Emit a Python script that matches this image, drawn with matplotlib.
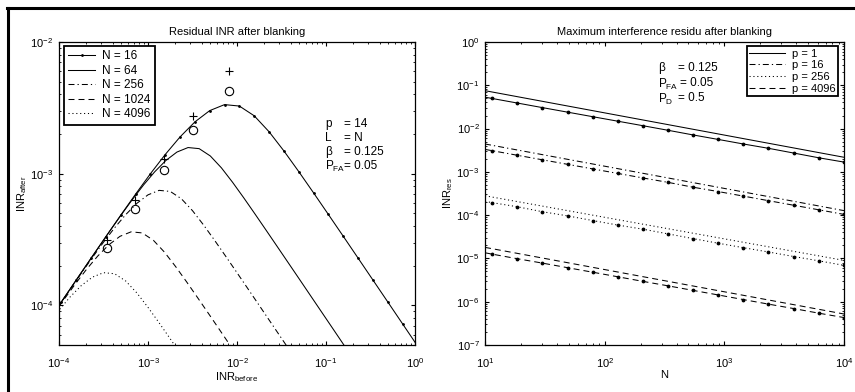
import matplotlib
matplotlib.use('Agg')
import matplotlib.pyplot as plt
from matplotlib.lines import Line2D

plt.rcParams['font.family'] = ['Liberation Sans', 'DejaVu Sans']
plt.rcParams['font.size'] = 8
plt.rcParams['mathtext.default'] = 'regular'
plt.rcParams['lines.scale_dashes'] = False
plt.rcParams['xtick.direction'] = 'in'
plt.rcParams['ytick.direction'] = 'in'
plt.rcParams['xtick.top'] = True
plt.rcParams['ytick.right'] = True
plt.rcParams['xtick.major.size'] = 3
plt.rcParams['ytick.major.size'] = 3
plt.rcParams['xtick.minor.size'] = 1.6
plt.rcParams['ytick.minor.size'] = 1.6
plt.rcParams['xtick.major.pad'] = 8
plt.rcParams['ytick.major.pad'] = 4
plt.rcParams['axes.linewidth'] = 0.9

# ---- left panel: residual INR after blanking ----
inr_before_n16 = [7.244e-5, 1.063e-4, 1.561e-4, 2.291e-4, 3.363e-4, 4.936e-4, 7.244e-4, 1.063e-3,
                  1.561e-3, 2.291e-3, 3.363e-3, 4.936e-3, 7.244e-3, 1.063e-2, 1.561e-2, 2.291e-2,
                  3.363e-2, 4.936e-2, 7.244e-2, 0.1063, 0.1561, 0.2291, 0.3363, 0.4936, 0.7244, 1.063]
inr_after_n16 = [7.236e-5, 1.061e-4, 1.555e-4, 2.276e-4, 3.323e-4, 4.834e-4, 6.984e-4, 9.976e-4,
                 1.398e-3, 1.901e-3, 2.472e-3, 3.012e-3, 3.345e-3, 3.262e-3, 2.751e-3, 2.082e-3,
                 1.489e-3, 1.038e-3, 7.152e-4, 4.901e-4, 3.350e-4, 2.286e-4, 1.559e-4, 1.063e-4,
                 7.242e-5, 4.934e-5]

inr_before_n64 = [8.913e-5, 1.189e-4, 1.585e-4, 2.113e-4, 2.818e-4, 3.758e-4, 5.012e-4, 6.683e-4,
                  8.913e-4, 1.189e-3, 1.585e-3, 2.113e-3, 2.818e-3, 3.758e-3, 5.012e-3, 6.683e-3,
                  8.913e-3, 1.189e-2, 1.585e-2, 2.113e-2, 2.818e-2, 3.758e-2, 5.012e-2, 6.683e-2,
                  8.913e-2, 0.1189, 0.1585, 0.2113]
inr_after_n64 = [8.905e-5, 1.187e-4, 1.580e-4, 2.103e-4, 2.794e-4, 3.701e-4, 4.876e-4, 6.372e-4,
                 8.206e-4, 1.033e-3, 1.258e-3, 1.459e-3, 1.579e-3, 1.549e-3, 1.363e-3, 1.107e-3,
                 8.605e-4, 6.564e-4, 4.964e-4, 3.739e-4, 2.810e-4, 2.110e-4, 1.584e-4, 1.188e-4,
                 8.910e-5, 6.682e-5, 5.011e-5, 3.758e-5]

inr_before_n256 = [7.499e-5, 1.000e-4, 1.334e-4, 1.778e-4, 2.371e-4, 3.162e-4, 4.217e-4, 5.623e-4,
                   7.499e-4, 1.000e-3, 1.334e-3, 1.778e-3, 2.371e-3, 3.162e-3, 4.217e-3, 5.623e-3,
                   7.499e-3, 1.000e-2, 1.334e-2, 1.778e-2, 2.371e-2, 3.162e-2, 4.217e-2]
inr_after_n256 = [7.478e-5, 9.950e-5, 1.322e-4, 1.751e-4, 2.307e-4, 3.014e-4, 3.882e-4, 4.889e-4,
                  5.952e-4, 6.906e-4, 7.469e-4, 7.330e-4, 6.451e-4, 5.236e-4, 4.071e-4, 3.106e-4,
                  2.349e-4, 1.769e-4, 1.329e-4, 9.984e-5, 7.492e-5, 5.621e-5, 4.216e-5]

inr_before_n1024 = [8.610e-5, 1.148e-4, 1.531e-4, 2.042e-4, 2.723e-4, 3.631e-4, 4.842e-4, 6.457e-4,
                    8.610e-4, 1.148e-3, 1.531e-3, 2.042e-3, 2.723e-3, 3.631e-3, 4.842e-3, 6.457e-3,
                    8.610e-3, 1.148e-2]
inr_after_n1024 = [8.478e-5, 1.117e-4, 1.459e-4, 1.880e-4, 2.367e-4, 2.883e-4, 3.343e-4, 3.617e-4,
                   3.549e-4, 3.123e-4, 2.535e-4, 1.971e-4, 1.504e-4, 1.137e-4, 8.566e-5, 6.438e-5,
                   4.834e-5, 3.628e-5]

inr_before_n4096 = [7.499e-5, 1.000e-4, 1.334e-4, 1.778e-4, 2.371e-4, 3.162e-4, 4.217e-4, 5.623e-4,
                    7.499e-4, 1.000e-3, 1.334e-3, 1.778e-3, 2.371e-3, 3.162e-3]
inr_after_n4096 = [7.148e-5, 9.207e-5, 1.159e-4, 1.412e-4, 1.637e-4, 1.771e-4, 1.738e-4, 1.530e-4,
                   1.242e-4, 9.655e-5, 7.365e-5, 5.570e-5, 4.195e-5, 3.153e-5]

# simulated peaks
peak_before = [3.46e-4, 7.15e-4, 1.51e-3, 3.23e-3, 8.13e-3]
peak_plus = [3.12e-4, 6.34e-4, 1.29e-3, 2.72e-3, 6.01e-3]
peak_circle = [2.74e-4, 5.38e-4, 1.07e-3, 2.13e-3, 4.23e-3]

# ---- right panel: maximum interference residu ----
n_ends = [10, 10000]
res_p1 = [7.5e-2, 2.17e-3]
res_p16 = [4.4e-3, 1.27e-4]
res_p256 = [2.8e-4, 9.0e-6]
res_p4096 = [1.8e-5, 5.2e-7]

n_marked = [10, 11.4, 18.4, 30.1, 49.1, 79.4, 128.5, 210, 340, 551, 891, 1442, 2333, 3846, 6223, 10000]
res_p1_marked = [5.3e-2, 4.97e-2, 3.91e-2, 3.05e-2, 2.39e-2, 1.88e-2, 1.48e-2, 1.16e-2,
                 9.1e-3, 7.1e-3, 5.6e-3, 4.4e-3, 3.5e-3, 2.7e-3, 2.1e-3, 1.68e-3]
res_p16_marked = [3.3e-3, 3.09e-3, 2.43e-3, 1.90e-3, 1.49e-3, 1.17e-3, 9.2e-4, 7.2e-4,
                  5.7e-4, 4.4e-4, 3.5e-4, 2.75e-4, 2.16e-4, 1.68e-4, 1.32e-4, 1.04e-4]
res_p256_marked = [2.08e-4, 1.95e-4, 1.57e-4, 1.20e-4, 9.6e-5, 7.5e-5, 5.9e-5, 4.72e-5,
                   3.68e-5, 2.86e-5, 2.24e-5, 1.77e-5, 1.41e-5, 1.10e-5, 8.75e-6, 6.9e-6]
res_p4096_marked = [1.35e-5, 1.26e-5, 9.9e-6, 7.8e-6, 6.1e-6, 4.8e-6, 3.77e-6, 2.94e-6,
                    2.32e-6, 1.82e-6, 1.43e-6, 1.12e-6, 8.8e-7, 6.9e-7, 5.4e-7, 4.3e-7]

solid = '-'
dashed = (0, (4.3, 2.9))
dashdot = (0, (4.3, 2.2, 0.9, 2.2))
dotted = (0, (0.8, 2.0))
lw = 0.75

fig = plt.figure(figsize=(8.55, 3.92), dpi=100)
ax1 = fig.add_axes([0.0690, 0.1199, 0.4164, 0.7730])
ax2 = fig.add_axes([0.5673, 0.1199, 0.4199, 0.7730])

# left
ax1.plot(inr_before_n16, inr_after_n16, color='k', lw=lw, ls=solid, marker='.', ms=2.0, label='N = 16')
ax1.plot(inr_before_n64, inr_after_n64, color='k', lw=lw, ls=solid, label='N = 64')
ax1.plot(inr_before_n256, inr_after_n256, color='k', lw=lw, ls=dashdot, label='N = 256')
ax1.plot(inr_before_n1024, inr_after_n1024, color='k', lw=lw, ls=dashed, label='N = 1024')
ax1.plot(inr_before_n4096, inr_after_n4096, color='k', lw=lw, ls=dotted, label='N = 4096')
ax1.plot(peak_before, peak_plus, ls='none', marker='+', ms=6, mew=0.8, color='k')
ax1.plot(peak_before, peak_circle, ls='none', marker='o', ms=6, mew=0.8, mfc='none', color='k')
ax1.set_xscale('log')
ax1.set_yscale('log')
ax1.set_xlim(1e-4, 1)
ax1.set_ylim(5e-5, 1e-2)
ax1.set_title('Residual INR after blanking', fontsize=8, pad=5)
ax1.set_xlabel(r'INR$_{before}$', labelpad=0)
ax1.set_ylabel(r'INR$_{after}$', labelpad=1)
leg1 = ax1.legend(loc='upper left', bbox_to_anchor=(0.014, 0.987), borderaxespad=0, fontsize=8.5,
                  fancybox=False, edgecolor='k', framealpha=1, handlelength=2.3, handletextpad=0.6,
                  labelspacing=0.22, borderpad=0.35)
leg1.get_frame().set_linewidth(1.3)

t = ax1.transAxes
ax1.text(0.747, 0.729, 'p', transform=t, va='center', fontsize=8.5)
ax1.text(0.800, 0.729, '= 14', transform=t, va='center', fontsize=8.5)
ax1.text(0.747, 0.683, 'L', transform=t, va='center', fontsize=8.5)
ax1.text(0.800, 0.683, '= N', transform=t, va='center', fontsize=8.5)
ax1.text(0.747, 0.637, 'β', transform=t, va='center', fontsize=8.5)
ax1.text(0.800, 0.637, '= 0.125', transform=t, va='center', fontsize=8.5)
ax1.text(0.747, 0.589, r'P$_{FA}$', transform=t, va='center', fontsize=8.5)
ax1.text(0.800, 0.592, '= 0.05', transform=t, va='center', fontsize=8.5)

# right
ax2.plot(n_ends, res_p1, color='k', lw=lw, ls=solid, label='p = 1')
ax2.plot(n_ends, res_p16, color='k', lw=lw, ls=dashdot, label='p = 16')
ax2.plot(n_ends, res_p256, color='k', lw=lw, ls=dotted, label='p = 256')
ax2.plot(n_ends, res_p4096, color='k', lw=lw, ls=dashed, label='p = 4096')
ax2.plot(n_marked, res_p1_marked, color='k', lw=lw, ls=solid, marker='.', ms=3.5, markevery=slice(1, None))
ax2.plot(n_marked, res_p16_marked, color='k', lw=lw, ls=dashdot, marker='.', ms=3.5, markevery=slice(1, None))
ax2.plot(n_marked, res_p256_marked, color='k', lw=lw, ls=dotted, marker='.', ms=3.5, markevery=slice(1, None))
ax2.plot(n_marked, res_p4096_marked, color='k', lw=lw, ls=dashed, marker='.', ms=3.5, markevery=slice(1, None))
ax2.set_xscale('log')
ax2.set_yscale('log')
ax2.set_xlim(10, 1e4)
ax2.set_ylim(1e-7, 1)
ax2.set_title('Maximum interference residu after blanking', fontsize=8, pad=5)
ax2.set_xlabel('N', labelpad=0)
ax2.set_ylabel(r'INR$_{res}$', labelpad=1)
leg2 = ax2.legend(loc='upper right', bbox_to_anchor=(0.983, 0.987), borderaxespad=0, fontsize=8,
                  fancybox=False, edgecolor='k', framealpha=1, handlelength=3.2, handletextpad=0.6,
                  labelspacing=0.15, borderpad=0.25)
leg2.get_frame().set_linewidth(1.3)

t = ax2.transAxes
ax2.text(0.482, 0.914, 'β', transform=t, va='center', fontsize=8.5)
ax2.text(0.538, 0.914, '= 0.125', transform=t, va='center', fontsize=8.5)
ax2.text(0.482, 0.860, r'P$_{FA}$', transform=t, va='center', fontsize=8.5)
ax2.text(0.543, 0.863, '= 0.05', transform=t, va='center', fontsize=8.5)
ax2.text(0.482, 0.812, r'P$_{D}$', transform=t, va='center', fontsize=8.5)
ax2.text(0.538, 0.815, '= 0.5', transform=t, va='center', fontsize=8.5)

for ax in (ax1, ax2):
    ax.tick_params(which='both', labelsize=8)

# page frame (left and top rules)
fig.add_artist(Line2D([7.5 / 855, 7.5 / 855], [0, 1 - 7.5 / 392], transform=fig.transFigure, color='k', lw=2.2))
fig.add_artist(Line2D([6.5 / 855, 1], [1 - 7.5 / 392, 1 - 7.5 / 392], transform=fig.transFigure, color='k', lw=2.2))

fig.savefig('out.png', dpi=100)
